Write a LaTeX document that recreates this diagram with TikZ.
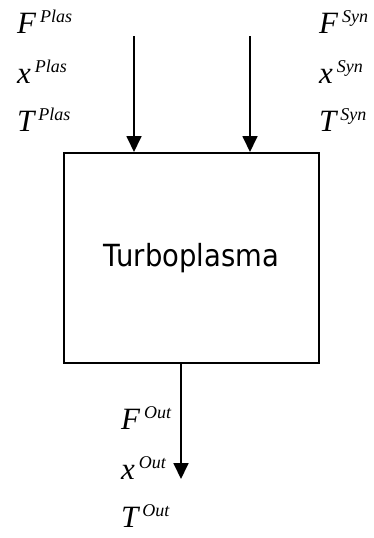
\documentclass[tikz,border=0pt]{standalone}
\usepackage{fontspec}
\setmainfont{Liberation Serif}
\newfontfamily\boxfont[FakeStretch=0.9]{DejaVu Sans}
\usetikzlibrary{arrows.meta}

% stream variable with a small raised tag, e.g. F^{Plas}
\newcommand\streamvar[2]{%
  {\fontsize{31}{31}\selectfont\itshape #1\kern4pt%
   \raisebox{11pt}{\fontsize{18}{18}\selectfont\itshape #2}}}

\begin{document}
\begin{tikzpicture}[x=1pt,y=-1pt,
  flow/.style={line width=1.8pt,-{Triangle[length=16pt,width=15pt]}},
  unit/.style={draw,line width=2pt,minimum width=255pt,minimum height=210pt,
    inner sep=0pt,font=\boxfont\fontsize{30.5}{30.5}\selectfont},
  tag/.style={anchor=base west,inner sep=0pt}]
  \useasboundingbox (0,0) rectangle (374,538);

  % process unit
  \node[unit] (turbo) at (191.5,258) {\raisebox{-2pt}{Turboplasma}};

  % feed streams
  \coordinate (plasIn) at (134,36);
  \coordinate (synIn) at (250,36);
  \draw[flow] (plasIn) -- (plasIn |- turbo.north);
  \draw[flow] (synIn) -- (synIn |- turbo.north);

  % product stream
  \coordinate (outEnd) at (181,479);
  \draw[flow] (outEnd |- turbo.south) -- (outEnd);

  % plasma feed variables
  \node[tag] (fPlas) at (17,33)  {\streamvar{F}{Plas}};
  \node[tag] (xPlas) at (17,83)  {\streamvar{x}{Plas}};
  \node[tag] (tPlas) at (17,131) {\streamvar{T}{Plas}};

  % synthesis gas feed variables
  \node[tag] (fSyn) at (319,33)  {\streamvar{F}{Syn}};
  \node[tag] (xSyn) at (319,83)  {\streamvar{x}{Syn}};
  \node[tag] (tSyn) at (319,131) {\streamvar{T}{Syn}};

  % outlet variables
  \node[tag] (fOut) at (121,429) {\streamvar{F}{Out}};
  \node[tag] (xOut) at (121,479) {\streamvar{x}{Out}};
  \node[tag] (tOut) at (121,527) {\streamvar{T}{Out}};
\end{tikzpicture}
\end{document}
